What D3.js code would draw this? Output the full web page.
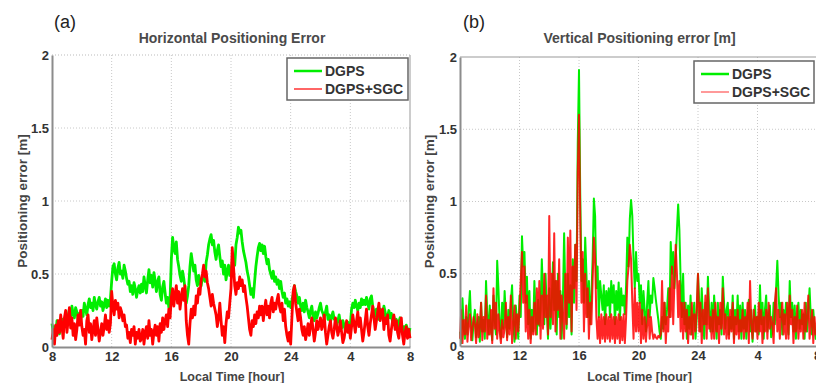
<!DOCTYPE html>
<html><head><meta charset="utf-8">
<script src="https://cdn.jsdelivr.net/npm/d3@7"></script>
<style>
body{margin:0;background:#fff;}
svg{display:block;}
text{font-family:"Liberation Sans",Arial,sans-serif;}
</style></head>
<body><svg id="c" width="816" height="383"></svg>
<script>
// ---------- DATA ----------
const xTickValues = [8, 12, 16, 20, 24, 28, 32];
const xTickLabels = ["8", "12", "16", "20", "24", "4", "8"];
const yTickValues = [0, 0.5, 1, 1.5, 2];
const yTickLabels = ["0", "0.5", "1", "1.5", "2"];
const seriesNames = ["DGPS", "DGPS+SGC"];
const startHour = 8;
const stepsPerHour = 12;   // 5-minute samples, 8h to 32h (8h next day)

// Horizontal positioning error [m]
const horizDGPS = [
 0.16,0.10,0.14,0.08,0.18,0.12,0.09,0.15,0.12,0.19,0.16,0.22,
 0.17,0.21,0.26,0.20,0.28,0.23,0.20,0.27,0.24,0.19,0.23,0.18,
 0.25,0.21,0.30,0.26,0.22,0.29,0.33,0.27,0.30,0.25,0.34,0.29,
 0.26,0.31,0.34,0.28,0.31,0.25,0.29,0.33,0.27,0.32,0.28,0.33,
 0.45,0.55,0.57,0.50,0.46,0.54,0.58,0.50,0.52,0.47,0.56,0.52,
 0.47,0.43,0.45,0.38,0.42,0.36,0.44,0.40,0.34,0.39,0.42,0.37,
 0.43,0.38,0.48,0.42,0.37,0.46,0.53,0.44,0.49,0.41,0.51,0.45,
 0.38,0.45,0.48,0.36,0.32,0.41,0.45,0.37,0.30,0.34,0.27,0.33,
 0.60,0.75,0.68,0.64,0.72,0.60,0.55,0.49,0.45,0.52,0.47,0.40,
 0.30,0.35,0.42,0.55,0.64,0.58,0.52,0.56,0.46,0.42,0.49,0.44,
 0.42,0.48,0.52,0.45,0.58,0.63,0.70,0.74,0.77,0.70,0.73,0.65,
 0.60,0.66,0.70,0.62,0.55,0.59,0.50,0.56,0.46,0.52,0.56,0.49,
 0.52,0.58,0.62,0.56,0.70,0.75,0.82,0.78,0.80,0.72,0.66,0.62,
 0.58,0.52,0.48,0.42,0.36,0.40,0.34,0.45,0.55,0.62,0.68,0.71,
 0.66,0.70,0.64,0.69,0.62,0.57,0.60,0.53,0.50,0.47,0.52,0.45,
 0.48,0.43,0.46,0.40,0.45,0.38,0.34,0.37,0.30,0.33,0.28,0.31,
 0.27,0.32,0.36,0.42,0.38,0.35,0.30,0.34,0.28,0.25,0.30,0.24,
 0.32,0.27,0.24,0.20,0.25,0.28,0.21,0.18,0.24,0.20,0.23,0.27,
 0.30,0.25,0.23,0.20,0.24,0.28,0.19,0.22,0.17,0.21,0.24,0.19,
 0.19,0.15,0.18,0.22,0.16,0.13,0.18,0.15,0.11,0.14,0.17,0.12,
 0.15,0.26,0.30,0.27,0.32,0.28,0.25,0.30,0.27,0.33,0.29,0.32,
 0.29,0.34,0.30,0.26,0.33,0.35,0.28,0.24,0.21,0.26,0.22,0.19,
 0.26,0.23,0.20,0.28,0.24,0.18,0.21,0.25,0.20,0.23,0.17,0.21,
 0.16,0.19,0.13,0.17,0.20,0.12,0.09,0.14,0.11,0.15,0.12,0.09,
 0.13];
const horizSGC = [
 0.05,0.12,0.02,0.15,0.08,0.18,0.10,0.22,0.14,0.06,0.20,0.25,
 0.10,0.18,0.27,0.13,0.20,0.08,0.16,0.05,0.12,0.22,0.15,0.25,
 0.14,0.08,0.12,0.02,0.18,0.22,0.10,0.16,0.05,0.12,0.18,0.08,
 0.20,0.12,0.04,0.10,0.16,0.08,0.14,0.22,0.12,0.18,0.10,0.16,
 0.38,0.28,0.22,0.32,0.26,0.30,0.20,0.27,0.24,0.18,0.22,0.14,
 0.15,0.06,0.10,0.03,0.12,0.08,0.14,0.02,0.10,0.06,0.12,0.04,
 0.06,0.12,0.02,0.10,0.14,0.06,0.18,0.08,0.12,0.02,0.10,0.15,
 0.08,0.14,0.04,0.16,0.10,0.20,0.12,0.18,0.22,0.14,0.26,0.20,
 0.34,0.40,0.28,0.36,0.42,0.30,0.38,0.26,0.34,0.40,0.32,0.42,
 0.18,0.08,0.02,0.16,0.26,0.20,0.28,0.22,0.35,0.30,0.40,0.36,
 0.46,0.50,0.56,0.48,0.52,0.44,0.40,0.34,0.28,0.36,0.30,0.26,
 0.22,0.14,0.20,0.30,0.18,0.08,0.14,0.03,0.16,0.24,0.20,0.30,
 0.40,0.68,0.55,0.42,0.36,0.44,0.40,0.48,0.42,0.46,0.38,0.42,
 0.34,0.28,0.20,0.12,0.08,0.18,0.14,0.22,0.16,0.24,0.20,0.28,
 0.22,0.28,0.18,0.26,0.32,0.22,0.28,0.20,0.30,0.34,0.24,0.30,
 0.26,0.32,0.36,0.28,0.24,0.30,0.18,0.26,0.14,0.08,0.04,0.10,
 0.02,0.20,0.38,0.42,0.30,0.24,0.18,0.26,0.20,0.12,0.08,0.14,
 0.05,0.10,0.16,0.08,0.14,0.20,0.12,0.04,0.10,0.18,0.12,0.16,
 0.20,0.12,0.16,0.22,0.10,0.02,0.08,0.14,0.18,0.10,0.06,0.12,
 0.20,0.14,0.08,0.12,0.18,0.10,0.03,0.06,0.12,0.18,0.10,0.15,
 0.06,0.14,0.22,0.16,0.10,0.18,0.24,0.14,0.20,0.12,0.04,0.10,
 0.18,0.26,0.14,0.08,0.16,0.22,0.28,0.20,0.12,0.18,0.24,0.30,
 0.18,0.24,0.26,0.12,0.20,0.16,0.22,0.08,0.04,0.12,0.18,0.22,
 0.12,0.18,0.10,0.06,0.14,0.20,0.08,0.02,0.10,0.14,0.06,0.12,
 0.06];

// Vertical positioning error [m]
const vertDGPS = [
 0.10,0.02,0.33,0.12,0.05,0.20,0.08,0.25,0.38,0.15,0.04,0.18,
 0.25,0.06,0.14,0.20,0.03,0.30,0.10,0.18,0.05,0.45,0.22,0.08,
 0.28,0.12,0.04,0.35,0.18,0.08,0.59,0.40,0.15,0.05,0.30,0.12,
 0.38,0.20,0.06,0.25,0.12,0.30,0.42,0.15,0.03,0.28,0.18,0.05,
 0.35,0.20,0.76,0.55,0.65,0.30,0.48,0.15,0.38,0.05,0.25,0.10,
 0.45,0.22,0.08,0.32,0.14,0.25,0.60,0.35,0.15,0.50,0.25,0.05,
 0.40,0.12,0.30,0.58,0.25,0.45,0.08,0.50,0.20,0.38,0.05,0.30,
 0.78,0.35,0.12,0.50,0.20,0.42,0.08,0.60,0.30,0.70,0.45,1.40,
 1.91,1.05,0.45,0.60,0.30,0.75,0.50,0.20,0.45,0.15,0.35,0.60,
 1.02,0.90,0.40,0.55,0.20,0.45,0.35,0.25,0.42,0.15,0.38,0.28,
 0.40,0.20,0.45,0.30,0.42,0.15,0.38,0.25,0.44,0.18,0.40,0.28,
 0.35,0.22,0.42,0.75,0.55,0.88,1.01,0.90,0.60,0.40,0.65,0.45,
 0.50,0.30,0.42,0.15,0.38,0.25,0.10,0.30,0.45,0.20,0.35,0.30,
 0.47,0.40,0.32,0.25,0.18,0.10,0.05,0.20,0.12,0.30,0.15,0.25,
 0.40,0.20,0.72,0.50,0.65,0.40,0.60,0.80,0.98,0.80,0.45,0.20,
 0.50,0.15,0.30,0.05,0.28,0.12,0.35,0.08,0.20,0.30,0.05,0.20,
 0.50,0.30,0.10,0.40,0.20,0.05,0.30,0.15,0.48,0.25,0.10,0.30,
 0.10,0.35,0.20,0.05,0.30,0.15,0.25,0.08,0.48,0.30,0.12,0.25,
 0.30,0.08,0.20,0.12,0.35,0.05,0.25,0.15,0.35,0.10,0.28,0.05,
 0.30,0.12,0.25,0.05,0.20,0.32,0.10,0.25,0.03,0.18,0.28,0.10,
 0.20,0.08,0.42,0.15,0.30,0.05,0.25,0.35,0.10,0.20,0.28,0.06,
 0.10,0.30,0.15,0.40,0.59,0.35,0.20,0.30,0.08,0.25,0.15,0.30,
 0.25,0.08,0.45,0.20,0.30,0.10,0.28,0.05,0.20,0.30,0.12,0.25,
 0.15,0.22,0.05,0.30,0.10,0.25,0.40,0.20,0.08,0.25,0.12,0.05,
 0.15];
const vertSGC = [
 0.05,0.25,0.02,0.18,0.08,0.28,0.03,0.15,0.22,0.04,0.12,0.20,
 0.15,0.02,0.22,0.06,0.12,0.30,0.04,0.20,0.10,0.35,0.05,0.18,
 0.08,0.25,0.02,0.40,0.12,0.30,0.05,0.22,0.10,0.02,0.18,0.06,
 0.12,0.30,0.04,0.20,0.08,0.35,0.02,0.15,0.28,0.05,0.22,0.10,
 0.25,0.45,0.65,0.30,0.55,0.10,0.35,0.05,0.25,0.02,0.20,0.08,
 0.30,0.08,0.40,0.15,0.45,0.05,0.35,0.12,0.50,0.20,0.35,0.08,
 0.90,0.20,0.50,0.15,0.78,0.10,0.45,0.25,0.60,0.05,0.35,0.20,
 0.05,0.50,0.15,0.75,0.30,0.80,0.10,0.55,0.40,0.70,0.25,1.20,
 1.60,0.90,0.30,0.65,0.10,0.50,0.20,0.40,0.05,0.30,0.15,0.45,
 0.75,0.60,0.20,0.05,0.20,0.02,0.22,0.05,0.20,0.03,0.22,0.05,
 0.20,0.03,0.22,0.05,0.20,0.02,0.20,0.05,0.22,0.02,0.20,0.04,
 0.22,0.02,0.20,0.45,0.55,0.70,0.60,0.30,0.05,0.40,0.10,0.30,
 0.10,0.30,0.02,0.25,0.05,0.20,0.03,0.15,0.25,0.05,0.20,0.10,
 0.05,0.08,0.06,0.05,0.07,0.06,0.08,0.45,0.10,0.30,0.02,0.20,
 0.10,0.40,0.20,0.55,0.15,0.45,0.70,0.50,0.20,0.45,0.10,0.30,
 0.05,0.30,0.10,0.25,0.02,0.20,0.08,0.30,0.05,0.22,0.10,0.28,
 0.50,0.10,0.30,0.02,0.25,0.15,0.35,0.05,0.40,0.12,0.20,0.05,
 0.25,0.05,0.30,0.10,0.20,0.02,0.30,0.12,0.40,0.08,0.22,0.05,
 0.20,0.05,0.25,0.10,0.30,0.02,0.20,0.08,0.25,0.05,0.18,0.10,
 0.25,0.05,0.20,0.10,0.30,0.02,0.45,0.15,0.05,0.25,0.10,0.20,
 0.05,0.30,0.10,0.25,0.02,0.20,0.10,0.25,0.05,0.30,0.12,0.20,
 0.15,0.02,0.30,0.40,0.10,0.25,0.05,0.20,0.30,0.08,0.22,0.05,
 0.30,0.05,0.35,0.15,0.25,0.02,0.20,0.10,0.28,0.05,0.18,0.10,
 0.25,0.05,0.30,0.10,0.20,0.35,0.05,0.15,0.25,0.02,0.20,0.08,
 0.10];

// ---------- DRAW ----------
const svg = d3.select("#c");
const GREEN = "#00ee00", RED = "#ff0000";

function panel(opt) {
  const x = d3.scaleLinear().domain([8, 32]).range([opt.x0, opt.x1]);
  const y = d3.scaleLinear().domain([0, 2]).range([opt.y0, opt.y1]);
  const g = svg.append("g");

  // grid
  g.append("g").selectAll("line").data(xTickValues.slice(1, -1)).join("line")
    .attr("x1", d => x(d)).attr("x2", d => x(d)).attr("y1", opt.y0).attr("y2", opt.y1)
    .attr("stroke", "#c8c8c8").attr("stroke-dasharray", "1,2");
  g.append("g").selectAll("line").data(yTickValues.slice(1, -1)).join("line")
    .attr("y1", d => y(d)).attr("y2", d => y(d)).attr("x1", opt.x0).attr("x2", opt.x1)
    .attr("stroke", "#c8c8c8").attr("stroke-dasharray", "1,2");

  // box edges
  g.append("line").attr("x1", opt.x1).attr("x2", opt.x1).attr("y1", opt.y0).attr("y2", opt.y1)
    .attr("stroke", "#999").attr("stroke-width", 1);
  g.append("line").attr("x1", opt.x0).attr("x2", opt.x1).attr("y1", opt.y1).attr("y2", opt.y1)
    .attr("stroke", opt.topDotted ? "#bbb" : "#999").attr("stroke-dasharray", opt.topDotted ? "1,2" : null);

  const lineG = d3.line().x((d, i) => x(startHour + i / stepsPerHour)).y(d => y(d));
  g.append("path").datum(opt.a).attr("d", lineG).attr("fill", "none")
    .attr("stroke", GREEN).attr("stroke-width", opt.lw).attr("stroke-linejoin", "round");
  g.append("path").datum(opt.b).attr("d", lineG).attr("fill", "none")
    .attr("stroke", RED).attr("stroke-opacity", opt.redOp).attr("stroke-width", opt.lw).attr("stroke-linejoin", "round");

  // axes
  const ax = g.append("g").attr("transform", `translate(0,${opt.y0})`)
    .call(d3.axisBottom(x).tickValues(xTickValues).tickFormat((d, i) => xTickLabels[i]).tickSize(0).tickPadding(5));
  const ay = g.append("g").attr("transform", `translate(${opt.x0},0)`)
    .call(d3.axisLeft(y).tickValues(yTickValues).tickFormat((d, i) => yTickLabels[i]).tickSize(0).tickPadding(3));
  [ax, ay].forEach(a => {
    a.select(".domain").attr("stroke", "#8c8c8c").attr("stroke-width", 2);
    a.selectAll("text").attr("fill", "#333").attr("font-size", 13).attr("font-weight", "bold");
  });

  // labels
  const cx = (opt.x0 + opt.x1b) / 2;
  g.append("text").attr("x", cx).attr("y", 43).attr("text-anchor", "middle")
    .attr("font-size", 14).attr("font-weight", "bold").attr("fill", "#4a4a4a").text(opt.title);
  g.append("text").attr("x", cx).attr("y", 381).attr("text-anchor", "middle")
    .attr("font-size", 12.5).attr("font-weight", "bold").attr("fill", "#444").text("Local Time [hour]");
  g.append("text").attr("transform", `translate(${opt.ylx},${(opt.y0 + opt.y1) / 2}) rotate(-90)`)
    .attr("text-anchor", "middle").attr("font-size", 13.5).attr("font-weight", "bold").attr("fill", "#444")
    .text("Positioning error [m]");
  g.append("text").attr("x", opt.px).attr("y", 28).attr("font-family", "Noto Sans")
    .attr("font-size", 18).attr("fill", "#222").text(opt.panel);

  // legend
  const L = opt.leg;
  const lg = g.append("g");
  lg.append("rect").attr("x", L.x).attr("y", L.y).attr("width", L.w).attr("height", L.h)
    .attr("fill", "#fff").attr("stroke", "#666").attr("stroke-width", 1.5);
  [GREEN, RED].forEach((c, i) => {
    const yy = L.y + 13 + i * 18;
    lg.append("line").attr("x1", L.x + 7).attr("x2", L.x + 35).attr("y1", yy).attr("y2", yy)
      .attr("stroke", c).attr("stroke-width", i === 0 ? 2.5 : 2).attr("stroke-opacity", i === 0 ? 1 : opt.legRedOp);
    lg.append("text").attr("x", L.x + 38).attr("y", yy + 5).attr("font-size", 14)
      .attr("font-weight", "bold").attr("fill", "#333").text(seriesNames[i]);
  });
}

panel({x0: 52, x1: 410, x1b: 412, y0: 347, y1: 55, a: horizDGPS, b: horizSGC,
  lw: 2.8, redOp: 1, title: "Horizontal Positioning Error", ylx: 27, px: 54, panel: "(a)", topDotted: true,
  leg: {x: 287, y: 58, w: 121, h: 42}, legRedOp: 0.6});
panel({x0: 460, x1: 817, x1b: 819, y0: 346, y1: 57, a: vertDGPS, b: vertSGC,
  lw: 2, redOp: 0.85, title: "Vertical Positioning error [m]", ylx: 434, px: 463, panel: "(b)", topDotted: false,
  leg: {x: 694, y: 61, w: 120, h: 42}, legRedOp: 0.4});
</script></body></html>
